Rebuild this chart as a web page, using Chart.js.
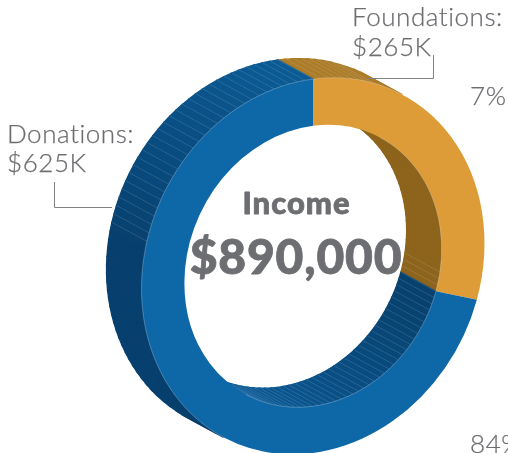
<!DOCTYPE html>
<html><head><meta charset="utf-8">
<style>html,body{margin:0;padding:0;background:#fff;overflow:hidden}canvas{display:block}</style>
<script src="https://cdn.jsdelivr.net/npm/chart.js@4"></script>
</head><body><canvas id="c" width="508" height="453"></canvas>
<script>
const categories = ["Foundations", "Donations"];
const incomeValues = [265, 625];
const sliceColors = ["#DD9C38", "#0E68A8"];
const labelLines = [["Foundations:", "$265K"], ["Donations:", "$625K"]];
const shareLabels = ["7%", "84%"];
const centerTitle = "Income";
const centerTotal = "$890,000";

// Oblique view of the ring: screen position of the ring plane and the depth of the extrusion
const view = {cx: 313, cy: 266, ax: 171.5, bx: -22.6, dy: 187, depthX: -35, depthY: -19};
const FAC = 2.6 * Math.PI / 180;
function mix(c1, c2, t) {
  t = Math.max(0, Math.min(1, t));
  const p = c => [1, 3, 5].map(i => parseInt(c.substr(i, 2), 16));
  const a = p(c1), b = p(c2);
  return "rgb(" + a.map((v, i) => Math.round(v + (b[i] - v) * t)).join(",") + ")";
}
function wallStyle(index, outer, a) {
  const d = a * 180 / Math.PI;
  if (index === 0) {
    return outer ? {fill: "#AD7C28", line: d < -66}
                 : {fill: "#8E641C", line: d > 10};
  }
  if (outer) return {fill: mix("#07406E", "#0B5A94", (d - 190) / 70), line: d > 195};
  return {fill: mix("#07426F", "#0B5A97", (d - 25) / 85), line: d < 128};
}
let edgeSegments = [];
const ringPlugin = {
  id: "ring",
  beforeDatasetsDraw(chart) {
    const ctx = chart.ctx;
    const arcs = chart.getDatasetMeta(0).data;
    const R = arcs[0].outerRadius;
    const P = (a, r, depth) => {
      const u = Math.cos(a) * r / R, v = Math.sin(a) * r / R;
      return [view.cx + view.ax * u + (depth ? view.depthX : 0),
              view.cy + view.bx * u + view.dy * v + (depth ? view.depthY : 0)];
    };
    const lines = [];
    edgeSegments = [];
    arcs.forEach((el, index) => {
      [[el.outerRadius, true], [el.innerRadius, false]].forEach(([r, outer]) => {
        const n = Math.max(1, Math.round((el.endAngle - el.startAngle) / FAC));
        const step = (el.endAngle - el.startAngle) / n;
        for (let i = 0; i < n; i++) {
          const a1 = el.startAngle + i * step, a2 = a1 + step;
          const p1 = P(a1, r, false), p2 = P(a2, r, false);
          const tx = p2[0] - p1[0], ty = p2[1] - p1[1];
          const dot = ty * view.depthX - tx * view.depthY;
          if (outer ? dot <= 0 : dot >= 0) continue;
          const q1 = P(a1, r, true), q2 = P(a2, r, true);
          const st = wallStyle(index, outer, (a1 + a2) / 2);
          ctx.beginPath();
          ctx.moveTo(p1[0], p1[1]); ctx.lineTo(p2[0], p2[1]);
          ctx.lineTo(q2[0], q2[1]); ctx.lineTo(q1[0], q1[1]);
          ctx.closePath();
          ctx.fillStyle = st.fill; ctx.strokeStyle = st.fill; ctx.lineWidth = 1.3;
          ctx.fill(); ctx.stroke();
          if (st.line) lines.push([p1, q1]);
          edgeSegments.push([p1, p2]);
        }
      });
    });
    ctx.strokeStyle = "rgba(215,225,235,0.3)";
    ctx.lineWidth = 0.5;
    lines.forEach(([a, b]) => {
      ctx.beginPath(); ctx.moveTo(a[0], a[1]); ctx.lineTo(b[0], b[1]); ctx.stroke();
    });
    const el = arcs[0];
    ctx.save();
    ctx.transform(view.ax / R, view.bx / R, 0, view.dy / R, view.cx, view.cy);
    ctx.translate(-el.x, -el.y);
  },
  afterDatasetsDraw(chart) {
    const ctx = chart.ctx;
    ctx.restore();
    ctx.strokeStyle = "rgba(215,225,235,0.5)";
    ctx.lineWidth = 0.6;
    edgeSegments.forEach(([a, b]) => {
      ctx.beginPath(); ctx.moveTo(a[0], a[1]); ctx.lineTo(b[0], b[1]); ctx.stroke();
    });
    ctx.textAlign = "left"; ctx.textBaseline = "alphabetic";
    ctx.fillStyle = "#6D6E71";
    ctx.font = "300 26px Lato";
    ctx.letterSpacing = "0.55px";
    ctx.strokeStyle = "#6D6E71"; ctx.lineWidth = 0.25;
    [[labelLines[0][0], 352, 26], [labelLines[0][1], 352, 56],
     [labelLines[1][0], 7, 143], [labelLines[1][1], 7, 172],
     [shareLabels[0], 470, 105], [shareLabels[1], 470, 453]].forEach(([t, x, y]) => {
      ctx.fillText(t, x, y); ctx.strokeText(t, x, y);
    });
    ctx.letterSpacing = "0px";
    ctx.strokeStyle = "#808285"; ctx.lineWidth = 1;
    ctx.beginPath();
    ctx.moveTo(433.5, 55); ctx.lineTo(433.5, 78.5); ctx.lineTo(368, 78.5);
    ctx.moveTo(54.5, 182); ctx.lineTo(54.5, 207.5); ctx.lineTo(112, 207.5);
    ctx.stroke();
    ctx.textAlign = "center";
    ctx.fillStyle = "#6D6E71";
    ctx.strokeStyle = "#6D6E71"; ctx.lineWidth = 0.8; ctx.lineJoin = "round";
    ctx.font = "900 31px Lato";
    ctx.letterSpacing = "1px";
    ctx.fillText(centerTitle, 296.5, 214); ctx.strokeText(centerTitle, 296.5, 214);
    ctx.font = "900 48px Lato";
    ctx.letterSpacing = "0.8px";
    ctx.fillText(centerTotal, 296, 274); ctx.strokeText(centerTotal, 296, 274);
    ctx.letterSpacing = "0px";
  }
};
new Chart(document.getElementById("c"), {
  type: "doughnut",
  data: {labels: categories, datasets: [{
    data: incomeValues, backgroundColor: sliceColors, borderWidth: 0
  }]},
  options: {
    responsive: false, animation: false, cutout: "75%",
    layout: {padding: 0},
    plugins: {legend: {display: false}, tooltip: {enabled: false}}
  },
  plugins: [ringPlugin]
});
</script></body></html>
